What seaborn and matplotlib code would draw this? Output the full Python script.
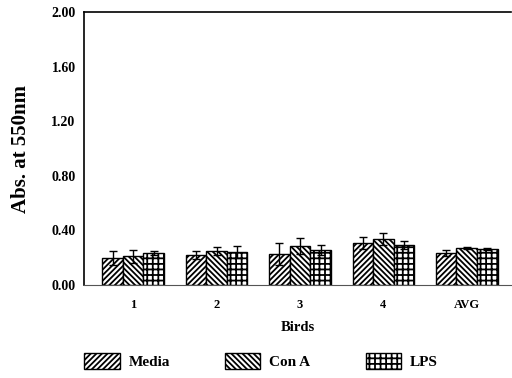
import matplotlib
matplotlib.use("Agg")
import matplotlib.pyplot as plt
import seaborn as sns
import pandas as pd
import numpy as np
from matplotlib.patches import Patch

groups = ["1", "2", "3", "4", "AVG"]
treatments = ["Media", "Con A", "LPS"]
media = [0.20, 0.22, 0.227, 0.31, 0.235]
cona = [0.21, 0.25, 0.286, 0.337, 0.27]
lps = [0.235, 0.24, 0.256, 0.293, 0.264]
media_err = [0.05, 0.03, 0.08, 0.045, 0.02]
cona_err = [0.05, 0.03, 0.06, 0.044, 0.008]
lps_err = [0.015, 0.045, 0.035, 0.03, 0.006]
yticks = [0.0, 0.4, 0.8, 1.2, 1.6, 2.0]

sns.set_style("white")
plt.rcParams["font.family"] = ["Liberation Serif", "DejaVu Serif"]
plt.rcParams["font.weight"] = "bold"
plt.rcParams["hatch.linewidth"] = 1.3
for k in ["text.color", "axes.labelcolor", "xtick.color", "ytick.color"]:
    plt.rcParams[k] = "black"

vals = [media, cona, lps]
errs = [media_err, cona_err, lps_err]
rows = []
for t, v in zip(treatments, vals):
    for g, x in zip(groups, v):
        rows.append({"Birds": g, "Treatment": t, "Abs": x})
df = pd.DataFrame(rows)

fig = plt.figure(figsize=(5.12, 3.78), dpi=100)
ax = fig.add_axes([0.164, 0.246, 0.834, 0.722])

sns.barplot(data=df, x="Birds", y="Abs", hue="Treatment", order=groups,
            hue_order=treatments, palette=["white"] * 3, edgecolor="black",
            linewidth=1.0, width=0.74, errorbar=None, legend=False, ax=ax)

hatches = ["//////", "\\\\\\\\\\\\", "+++"]
bar_containers = list(ax.containers)
for ci, cont in enumerate(bar_containers):
    xs = []
    for p in cont.patches:
        p.set_hatch(hatches[ci])
        p.set_edgecolor("black")
        xs.append(p.get_x() + p.get_width() / 2)
    ax.errorbar(xs, vals[ci], yerr=errs[ci], fmt="none", ecolor="black",
                elinewidth=1.0, capsize=3, capthick=1.0)

ax.set_ylim(0, 2.0)
ax.set_xlim(-0.59, 4.53)
ax.set_yticks(yticks)
ax.set_yticklabels([f"{t:.2f}" for t in yticks], fontsize=10, fontweight="bold")
ax.set_xticklabels(groups, fontsize=9, fontweight="bold")
ax.tick_params(axis="y", length=3, width=1, direction="out", pad=3, colors="black")
ax.tick_params(axis="x", length=0, pad=10, colors="black")
ax.set_ylabel("Abs. at 550nm", fontsize=15, fontweight="bold", labelpad=15)
ax.set_xlabel("Birds", fontsize=10.5, fontweight="bold", labelpad=7)

for s in ["left", "top"]:
    ax.spines[s].set_linewidth(1.2)
    ax.spines[s].set_color("black")
ax.spines["bottom"].set_linewidth(0.8)
ax.spines["bottom"].set_color("#555555")
ax.spines["right"].set_visible(False)

handles = [Patch(facecolor="white", edgecolor="black", hatch=h, label=t)
           for h, t in zip(hatches, treatments)]
fig.legend(handles=handles, loc="center", bbox_to_anchor=(0.51, 0.045), ncol=3,
           frameon=False, handlelength=2.3, handleheight=1.2, columnspacing=3.6,
           handletextpad=0.6, prop={"size": 11, "weight": "bold"})

fig.savefig("out.png", dpi=100)
